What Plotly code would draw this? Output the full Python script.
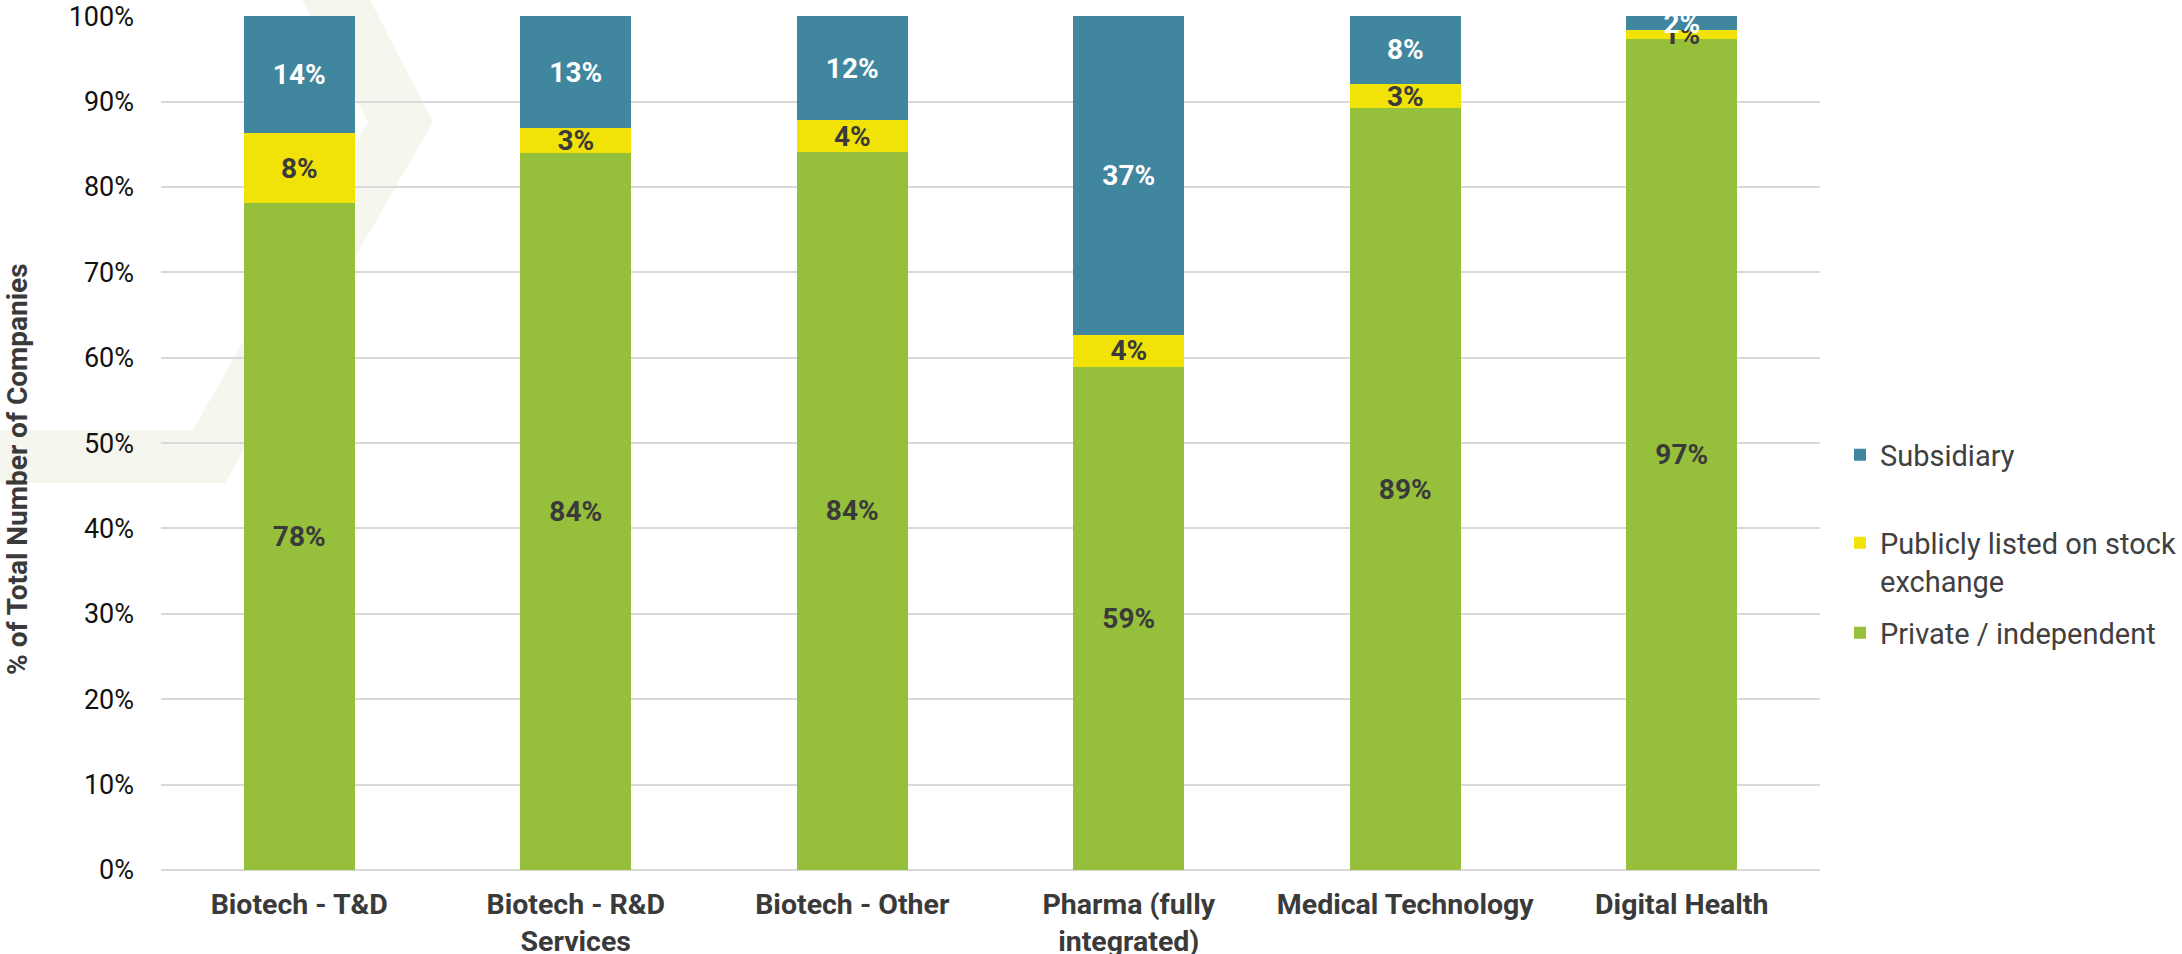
import plotly.graph_objects as go

categories = ["Biotech - T&D", "Biotech - R&D<br>Services", "Biotech - Other",
              "Pharma (fully<br>integrated)", "Medical Technology", "Digital Health"]
private_vals = [78.1, 84.0, 84.1, 58.9, 89.2, 97.3]
public_vals = [8.2, 2.9, 3.7, 3.8, 2.9, 1.1]
subsidiary_vals = [13.7, 13.1, 12.2, 37.3, 7.9, 1.6]
y_ticks = [0, 10, 20, 30, 40, 50, 60, 70, 80, 90, 100]
y_ticklabels = [f"{v}%" for v in y_ticks]

W, H = 2182, 954
L, R, T, B = 161, 1820, 16, 870
FONT = "Roboto, Arial, sans-serif"
DARK = "#3a3a3a"

def px_x(px):
    return (px - L) / (R - L)

def px_y(py):
    return (B - py) / (B - T)

fig = go.Figure()
series = [
    ("Private / independent", private_vals, "#96bf3c", DARK, "legend3"),
    ("Publicly listed on stock<br>exchange", public_vals, "#f1e208", DARK, "legend2"),
    ("Subsidiary", subsidiary_vals, "#40869e", "white", "legend"),
]
for name, vals, color, tcol, lg in series:
    labels = [f"{round(v)}%" for v in vals]
    fig.add_trace(go.Bar(
        x=categories, y=vals, name=name, marker=dict(color=color, line=dict(width=0)),
        width=0.4, text=labels, texttemplate="%{text}", textposition="inside",
        insidetextanchor="middle", textangle=0, constraintext="none",
        insidetextfont=dict(family=FONT, size=28, color=tcol, weight="bold"),
        legend=lg, cliponaxis=False,
    ))

# background chevron watermark
pts = [(302, 0), (370, 0), (433, 122), (225, 483), (0, 483), (0, 430), (193, 430), (368, 122)]
path = "M " + " L ".join(f"{px_x(a):.5f},{px_y(b):.5f}" for a, b in pts) + " Z"
fig.add_shape(type="path", path=path, xref="paper", yref="paper",
              fillcolor="#f5f6ee", line=dict(width=0), layer="below")

fig.add_annotation(text="<b>% of Total Number of Companies</b>", textangle=-90,
                   xref="paper", yref="paper", x=px_x(17), y=px_y(469),
                   xanchor="center", yanchor="middle", showarrow=False,
                   font=dict(family=FONT, size=28, color=DARK))

leg_common = dict(font=dict(family=FONT, size=29, color="#404040"), bgcolor="rgba(0,0,0,0)",
                  xanchor="left", yanchor="middle", valign="top")
fig.update_layout(
    width=W, height=H,
    margin=dict(l=L, r=W - R, t=T, b=H - B, autoexpand=False),
    paper_bgcolor="white", plot_bgcolor="rgba(0,0,0,0)",
    barmode="stack", showlegend=True,
    legend=dict(x=px_x(1840), y=px_y(455), **leg_common),
    legend2=dict(x=px_x(1840), y=px_y(562), **leg_common),
    legend3=dict(x=px_x(1840), y=px_y(633), **leg_common),
    xaxis=dict(tickfont=dict(family=FONT, size=28.5, color=DARK, weight="bold"),
               showgrid=False, showline=False, ticks="", fixedrange=True, automargin=False,
               ticklabelstandoff=14),
    yaxis=dict(range=[0, 100.02], tickmode="array", tickvals=y_ticks, ticktext=y_ticklabels,
               tickfont=dict(family=FONT, size=27, color="#111111"),
               showgrid=True, gridcolor="#d9d9d9", gridwidth=2,
               zeroline=True, zerolinecolor="#d9d9d9", zerolinewidth=2,
               ticks="", ticklabelstandoff=26, fixedrange=True, automargin=False),
)

fig.write_html("out.html", config={"displayModeBar": False},
               post_script="document.body.style.margin='0';")
